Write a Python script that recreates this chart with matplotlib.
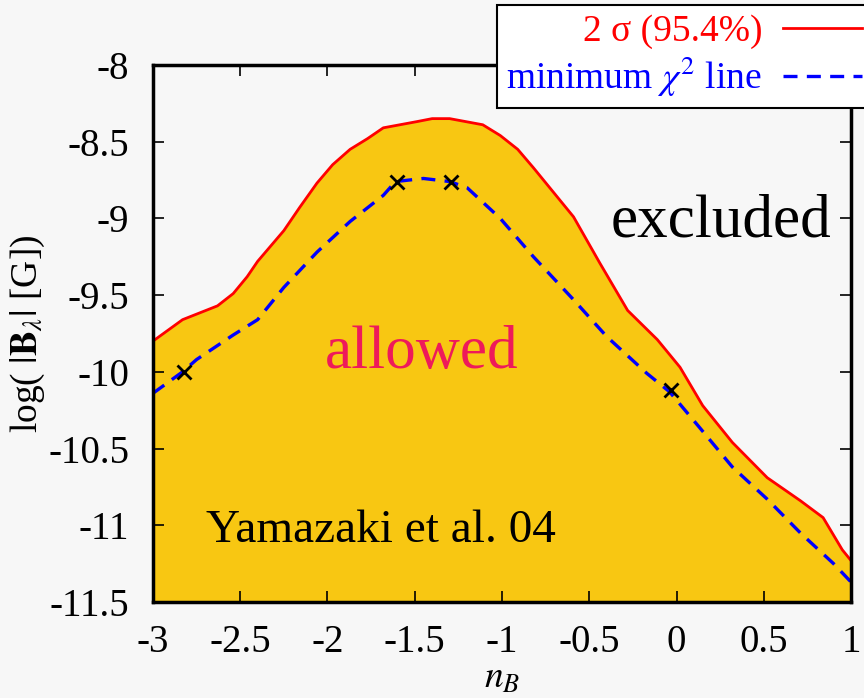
import matplotlib.pyplot as plt
from matplotlib.lines import Line2D

# 2 sigma upper boundary
nb_red = [-3.0, -2.83, -2.63, -2.54, -2.46, -2.40, -2.25, -2.16, -2.06, -1.97,
          -1.87, -1.77, -1.68, -1.49, -1.40, -1.30, -1.11, -1.01, -0.91, -0.82,
          -0.59, -0.44, -0.28, -0.11, 0.02, 0.15, 0.32, 0.52, 0.71, 0.84,
          0.95, 1.0]
logb_red = [-9.80, -9.66, -9.57, -9.49, -9.38, -9.28, -9.08, -8.93, -8.77, -8.65,
            -8.55, -8.48, -8.41, -8.37, -8.35, -8.35, -8.39, -8.46, -8.55, -8.67,
            -8.99, -9.29, -9.60, -9.79, -9.97, -10.22, -10.46, -10.69, -10.84, -10.95,
            -11.16, -11.23]

# minimum chi^2 line
nb_blue = [-3.0, -2.83, -2.75, -2.54, -2.40, -2.25, -2.06, -1.87, -1.68, -1.61,
           -1.45, -1.30, -1.20, -1.01, -0.82, -0.59, -0.40, -0.17, -0.04, 0.13,
           0.32, 0.52, 0.71, 0.90, 1.0]
logb_blue = [-10.14, -10.0, -9.92, -9.76, -9.66, -9.45, -9.22, -9.02, -8.85, -8.76,
             -8.74, -8.76, -8.80, -9.00, -9.25, -9.53, -9.77, -10.01, -10.13, -10.36,
             -10.62, -10.83, -11.05, -11.25, -11.37]

# best fit points (crosses)
nb_pts = [-2.82, -1.60, -1.29, -0.03]
logb_pts = [-10.0, -8.76, -8.76, -10.12]

xticks = [-3, -2.5, -2, -1.5, -1, -0.5, 0, 0.5, 1]
yticks = [-8, -8.5, -9, -9.5, -10, -10.5, -11, -11.5]

plt.rcParams['font.family'] = ['Liberation Serif', 'DejaVu Serif']
plt.rcParams['mathtext.fontset'] = 'stix'

fig = plt.figure(figsize=(8.64, 6.98), dpi=100, facecolor='#f7f7f7')
ax = fig.add_axes([0.177, 0.1375, 0.808, 0.7695])
ax.set_facecolor('#f7f7f7')

ax.fill_between(nb_red, logb_red, -11.5, color='#f8c712', lw=0)
ax.plot(nb_red, logb_red, color='red', lw=2, solid_joinstyle='round')
ax.plot(nb_blue, logb_blue, color='blue', lw=2.4, dashes=(4.2, 2.8))
ax.plot(nb_pts, logb_pts, 'x', color='black', ms=10, mew=2)

ax.set_xlim(-3, 1)
ax.set_ylim(-11.5, -8)
ax.set_xticks(xticks)
ax.set_xticklabels(['%g' % v for v in xticks])
ax.set_yticks(yticks)
ax.set_yticklabels(['%g' % v for v in yticks])
ax.tick_params(direction='in', top=True, right=True, length=8, width=1.2,
               labelsize=28)
ax.tick_params(axis='x', pad=16)
ax.tick_params(axis='y', pad=17)
for s in ax.spines.values():
    s.set_linewidth(2.5)

ax.set_xlabel(r'$n_B$', fontsize=27, labelpad=0)
ax.set_ylabel(r'log( $|\mathbf{B}_\lambda|$ [G])', fontsize=27, labelpad=1)

ax.text(0.255, -9.115, 'excluded', fontsize=44, ha='center', va='baseline')
ax.text(-1.458, -9.975, 'allowed', fontsize=44, ha='center', va='baseline',
        color='#ee1a5a')
ax.text(-1.693, -11.11, 'Yamazaki et al. 04', fontsize=34, ha='center',
        va='baseline')

handles = [Line2D([], [], color='red', lw=2),
           Line2D([], [], color='blue', lw=2.4, dashes=(4.2, 2.8))]
labels = ['2 σ (95.4%)', r'minimum $\chi^2$ line']
leg = fig.legend(handles, labels, loc='upper right', markerfirst=False,
                 bbox_to_anchor=(1.008, 0.993), fontsize=27, fancybox=False,
                 framealpha=1, edgecolor='black', handlelength=2.1,
                 handletextpad=0.55, borderaxespad=0, labelspacing=0.15,
                 borderpad=0.25)
leg.get_frame().set_linewidth(1.5)
leg.texts[0].set_color('red')
leg.texts[1].set_color('blue')
for t in leg.texts:
    t.set_ha('right')

fig.savefig('out.png', dpi=100, facecolor=fig.get_facecolor())
